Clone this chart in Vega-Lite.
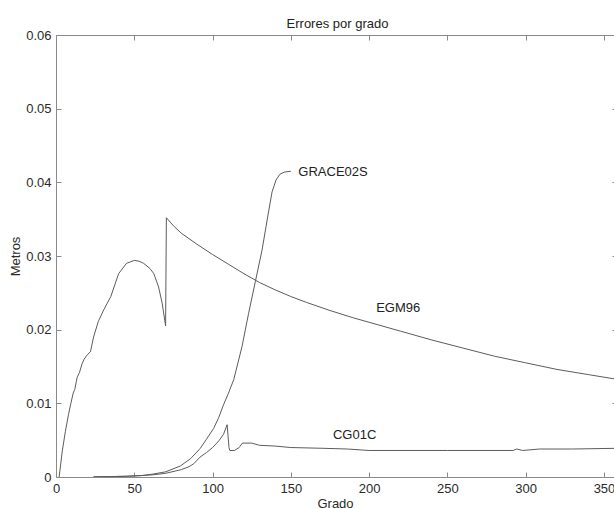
{
  "$schema": "https://vega.github.io/schema/vega-lite/v6.json",
  "width": 558,
  "height": 442,
  "autosize": {"type": "none"},
  "padding": {"left": 56, "top": 35, "right": 0, "bottom": 32},
  "background": "white",
  "title": {
    "text": "Errores por grado",
    "fontSize": 13,
    "fontWeight": "normal",
    "color": "#222222",
    "anchor": "middle",
    "dx": 2.5,
    "offset": -2
  },
  "config": {
    "font": "Liberation Sans",
    "view": {"stroke": null},
    "axis": {
      "domainColor": "#8a8a8a",
      "tickColor": "#8a8a8a",
      "labelColor": "#2a2a2a",
      "titleColor": "#2a2a2a",
      "labelFontSize": 13,
      "titleFontSize": 13,
      "titleFontWeight": "normal",
      "grid": false
    }
  },
  "datasets": {
    "curvas": [
      {"modelo": "EGM96", "grado": 2, "error": 0.0},
      {"modelo": "EGM96", "grado": 4, "error": 0.0035},
      {"modelo": "EGM96", "grado": 6, "error": 0.0062},
      {"modelo": "EGM96", "grado": 8, "error": 0.0085},
      {"modelo": "EGM96", "grado": 9.5, "error": 0.0100},
      {"modelo": "EGM96", "grado": 11, "error": 0.0114},
      {"modelo": "EGM96", "grado": 12, "error": 0.0119},
      {"modelo": "EGM96", "grado": 13.5, "error": 0.0135},
      {"modelo": "EGM96", "grado": 15, "error": 0.0142},
      {"modelo": "EGM96", "grado": 16.7, "error": 0.0154},
      {"modelo": "EGM96", "grado": 18, "error": 0.0160},
      {"modelo": "EGM96", "grado": 20, "error": 0.0166},
      {"modelo": "EGM96", "grado": 22, "error": 0.0170},
      {"modelo": "EGM96", "grado": 24, "error": 0.0190},
      {"modelo": "EGM96", "grado": 27, "error": 0.0211},
      {"modelo": "EGM96", "grado": 30.5, "error": 0.0227},
      {"modelo": "EGM96", "grado": 35, "error": 0.0245},
      {"modelo": "EGM96", "grado": 40, "error": 0.0276},
      {"modelo": "EGM96", "grado": 45, "error": 0.0290},
      {"modelo": "EGM96", "grado": 50, "error": 0.0294},
      {"modelo": "EGM96", "grado": 53, "error": 0.0293},
      {"modelo": "EGM96", "grado": 56, "error": 0.0290},
      {"modelo": "EGM96", "grado": 60, "error": 0.0283},
      {"modelo": "EGM96", "grado": 62.5, "error": 0.0276},
      {"modelo": "EGM96", "grado": 65.5, "error": 0.0258},
      {"modelo": "EGM96", "grado": 67.8, "error": 0.0236},
      {"modelo": "EGM96", "grado": 69.5, "error": 0.0212},
      {"modelo": "EGM96", "grado": 70, "error": 0.0205},
      {"modelo": "EGM96", "grado": 70.5, "error": 0.0352},
      {"modelo": "EGM96", "grado": 75, "error": 0.0341},
      {"modelo": "EGM96", "grado": 80, "error": 0.0331},
      {"modelo": "EGM96", "grado": 90, "error": 0.0316},
      {"modelo": "EGM96", "grado": 100, "error": 0.0302},
      {"modelo": "EGM96", "grado": 110, "error": 0.0289},
      {"modelo": "EGM96", "grado": 120, "error": 0.0276},
      {"modelo": "EGM96", "grado": 130, "error": 0.0264},
      {"modelo": "EGM96", "grado": 140, "error": 0.0254},
      {"modelo": "EGM96", "grado": 150, "error": 0.0245},
      {"modelo": "EGM96", "grado": 160, "error": 0.0237},
      {"modelo": "EGM96", "grado": 175, "error": 0.0226},
      {"modelo": "EGM96", "grado": 190, "error": 0.0216},
      {"modelo": "EGM96", "grado": 200, "error": 0.0210},
      {"modelo": "EGM96", "grado": 220, "error": 0.0198},
      {"modelo": "EGM96", "grado": 240, "error": 0.0186},
      {"modelo": "EGM96", "grado": 260, "error": 0.0175},
      {"modelo": "EGM96", "grado": 280, "error": 0.0164},
      {"modelo": "EGM96", "grado": 300, "error": 0.0155},
      {"modelo": "EGM96", "grado": 320, "error": 0.0146},
      {"modelo": "EGM96", "grado": 340, "error": 0.0139},
      {"modelo": "EGM96", "grado": 360, "error": 0.0132},

      {"modelo": "GRACE02S", "grado": 24, "error": 0.00003},
      {"modelo": "GRACE02S", "grado": 35, "error": 0.00006},
      {"modelo": "GRACE02S", "grado": 45, "error": 0.0001},
      {"modelo": "GRACE02S", "grado": 55, "error": 0.0002},
      {"modelo": "GRACE02S", "grado": 62, "error": 0.0004},
      {"modelo": "GRACE02S", "grado": 70, "error": 0.0007},
      {"modelo": "GRACE02S", "grado": 79.5, "error": 0.0015},
      {"modelo": "GRACE02S", "grado": 86, "error": 0.0025},
      {"modelo": "GRACE02S", "grado": 92.2, "error": 0.0039},
      {"modelo": "GRACE02S", "grado": 96, "error": 0.0051},
      {"modelo": "GRACE02S", "grado": 100.7, "error": 0.0066},
      {"modelo": "GRACE02S", "grado": 104, "error": 0.0081},
      {"modelo": "GRACE02S", "grado": 107, "error": 0.0098},
      {"modelo": "GRACE02S", "grado": 110, "error": 0.0113},
      {"modelo": "GRACE02S", "grado": 113.5, "error": 0.0132},
      {"modelo": "GRACE02S", "grado": 118.8, "error": 0.0177},
      {"modelo": "GRACE02S", "grado": 123, "error": 0.0222},
      {"modelo": "GRACE02S", "grado": 127.3, "error": 0.0265},
      {"modelo": "GRACE02S", "grado": 131.6, "error": 0.0308},
      {"modelo": "GRACE02S", "grado": 135.2, "error": 0.0353},
      {"modelo": "GRACE02S", "grado": 138, "error": 0.0387},
      {"modelo": "GRACE02S", "grado": 140.5, "error": 0.0403},
      {"modelo": "GRACE02S", "grado": 143, "error": 0.0411},
      {"modelo": "GRACE02S", "grado": 146, "error": 0.0414},
      {"modelo": "GRACE02S", "grado": 150, "error": 0.0415},

      {"modelo": "CG01C", "grado": 24, "error": 0.00002},
      {"modelo": "CG01C", "grado": 35, "error": 0.00005},
      {"modelo": "CG01C", "grado": 45, "error": 0.0001},
      {"modelo": "CG01C", "grado": 55, "error": 0.0002},
      {"modelo": "CG01C", "grado": 62, "error": 0.0003},
      {"modelo": "CG01C", "grado": 70, "error": 0.0005},
      {"modelo": "CG01C", "grado": 80, "error": 0.0010},
      {"modelo": "CG01C", "grado": 85, "error": 0.0014},
      {"modelo": "CG01C", "grado": 88, "error": 0.0018},
      {"modelo": "CG01C", "grado": 92, "error": 0.0027},
      {"modelo": "CG01C", "grado": 96, "error": 0.0033},
      {"modelo": "CG01C", "grado": 100, "error": 0.0040},
      {"modelo": "CG01C", "grado": 104, "error": 0.0049},
      {"modelo": "CG01C", "grado": 107, "error": 0.0058},
      {"modelo": "CG01C", "grado": 109.3, "error": 0.0071},
      {"modelo": "CG01C", "grado": 110.5, "error": 0.0040},
      {"modelo": "CG01C", "grado": 111, "error": 0.0036},
      {"modelo": "CG01C", "grado": 114, "error": 0.0036},
      {"modelo": "CG01C", "grado": 117, "error": 0.0040},
      {"modelo": "CG01C", "grado": 119, "error": 0.0046},
      {"modelo": "CG01C", "grado": 125, "error": 0.0046},
      {"modelo": "CG01C", "grado": 130, "error": 0.0043},
      {"modelo": "CG01C", "grado": 140, "error": 0.0042},
      {"modelo": "CG01C", "grado": 150, "error": 0.0040},
      {"modelo": "CG01C", "grado": 170, "error": 0.0039},
      {"modelo": "CG01C", "grado": 186, "error": 0.0038},
      {"modelo": "CG01C", "grado": 200, "error": 0.0036},
      {"modelo": "CG01C", "grado": 250, "error": 0.0036},
      {"modelo": "CG01C", "grado": 292, "error": 0.0036},
      {"modelo": "CG01C", "grado": 294.3, "error": 0.0038},
      {"modelo": "CG01C", "grado": 298, "error": 0.0036},
      {"modelo": "CG01C", "grado": 309, "error": 0.0038},
      {"modelo": "CG01C", "grado": 330, "error": 0.0038},
      {"modelo": "CG01C", "grado": 360, "error": 0.0039}
    ],
    "etiquetas": [
      {"modelo": "GRACE02S", "grado": 154.8, "error": 0.0414},
      {"modelo": "EGM96", "grado": 204.5, "error": 0.0229},
      {"modelo": "CG01C", "grado": 176.9, "error": 0.0057}
    ]
  },
  "layer": [
    {
      "data": {"name": "curvas"},
      "mark": {"type": "line", "stroke": "#5c5c5c", "strokeWidth": 1, "clip": true},
      "encoding": {
        "x": {
          "field": "grado",
          "type": "quantitative",
          "scale": {"domain": [0, 356.4], "nice": false, "zero": false},
          "axis": {
            "orient": "bottom",
            "title": "Grado",
            "values": [0, 50, 100, 150, 200, 250, 300, 350],
            "format": "d",
            "tickSize": -5,
            "labelPadding": 10,
            "titlePadding": 2,
            "labelFlush": false
          }
        },
        "y": {
          "field": "error",
          "type": "quantitative",
          "scale": {"domain": [0, 0.06], "nice": false},
          "axis": {
            "orient": "left",
            "title": "Metros",
            "values": [0, 0.01, 0.02, 0.03, 0.04, 0.05, 0.06],
            "format": ".2~f",
            "tickSize": -5,
            "labelPadding": 10,
            "titlePadding": 3,
            "labelFlush": false
          }
        },
        "detail": {"field": "modelo"}
      }
    },
    {
      "data": {"name": "etiquetas"},
      "mark": {"type": "text", "align": "left", "baseline": "middle", "fontSize": 13, "color": "#222222"},
      "encoding": {
        "x": {
          "field": "grado",
          "type": "quantitative",
          "axis": {"orient": "top", "title": null, "labels": false, "values": [0, 50, 100, 150, 200, 250, 300, 350], "tickSize": -5}
        },
        "y": {
          "field": "error",
          "type": "quantitative",
          "axis": {"orient": "right", "title": null, "labels": false, "domain": false, "values": [0.01, 0.02, 0.03, 0.04, 0.05, 0.06], "tickSize": -2}
        },
        "text": {"field": "modelo"}
      }
    }
  ],
  "resolve": {"axis": {"x": "independent", "y": "independent"}}
}
